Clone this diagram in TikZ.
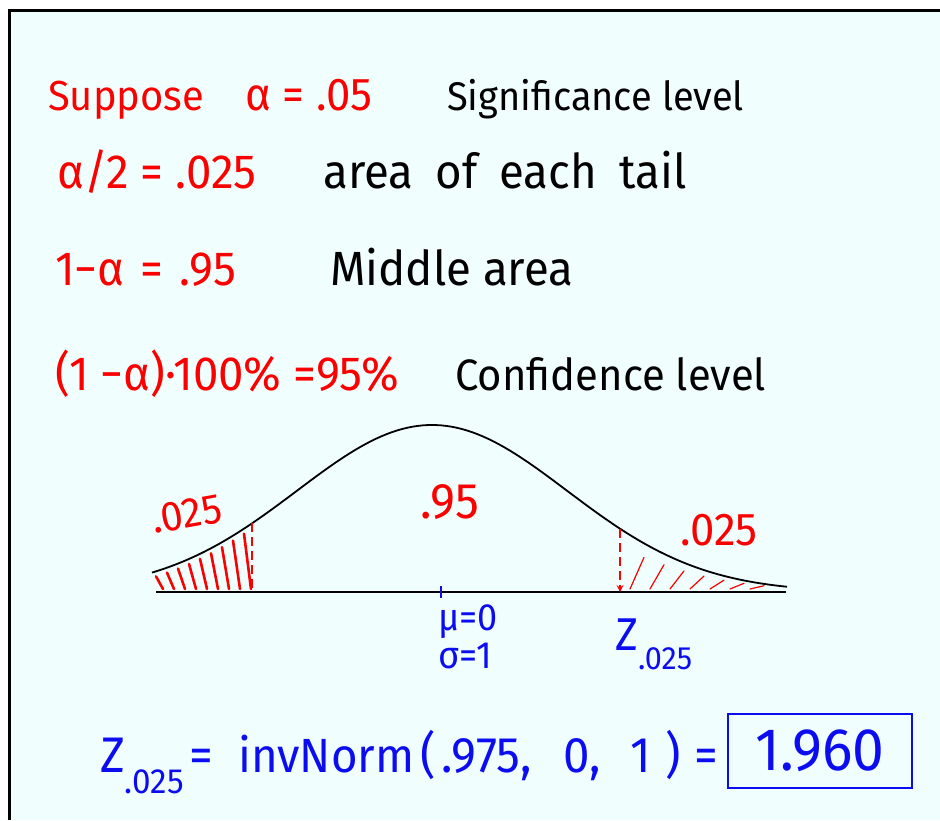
\documentclass[tikz,border=0pt]{standalone}
\usepackage{fontspec}
\setmainfont{Fira Sans}[FakeStretch=0.95]
\usetikzlibrary{arrows,positioning}
\definecolor{boardbg}{RGB}{240,255,253}
\definecolor{penred}{RGB}{250,0,0}
\definecolor{penblue}{RGB}{12,12,240}

% lowered subscript, as in z_{.025}
\newcommand{\lowsub}[1]{\raisebox{-0.42em}{\scalebox{0.7}{#1}}}
% height of the bell curve at x (pixels, y downwards)
\newcommand{\bell}[1]{(592-167*exp(-(((#1)-432)/135)^2/2))}
\newcommand{\fs}[1]{\fontsize{#1}{#1}\selectfont}

\begin{document}
\begin{tikzpicture}[x=1pt, y=-1pt,
    every node/.style={inner sep=0pt, font=\fs{46}},
    redtext/.style={anchor=base west, text=penred},
    blacktext/.style={anchor=base west, text=black},
    bluetext/.style={anchor=base west, text=penblue},
    hatch/.style={penred, line width=2.6pt, line cap=round},
    thinhatch/.style={penred, line width=1.2pt, line cap=round},
    cutline/.style={penred, line width=2pt, dashed, dash pattern=on 9pt off 5pt}
]

% board
\useasboundingbox (0,0) rectangle (940,820);
\fill[white] (0,0) rectangle (940,820);
\fill[boardbg] (9,10) rectangle (940,820);
\draw[line width=3pt] (9,820) -- (9,10) -- (940,10);

% Definitions
\node[redtext, font=\fs{42}] (suppose) at (48,110) {Suppose};
\node[redtext] (alpha) at (245,110) {α = .05};
\node[blacktext, font=\fs{40}] (siglevel) at (447,110) {Significance level};

\node[redtext, font=\fs{48}] (halfalpha) at (57,188) {α/2 = .025};
\node[blacktext, font=\fs{48}] (tailarea) at (323,188) {area\hspace{10pt} of\hspace{10pt} each\hspace{10pt} tail};

\node[redtext, font=\fs{48}] (oneminus) at (55,285) {1−α\hspace{4pt} =\hspace{4pt} .95};
\node[blacktext, font=\fs{48}] (midarea) at (330,285) {Middle area};

\node[redtext, font=\fs{48}] (conf) at (55,390) {(1 −α)·100\% =95\%};
\node[blacktext, font=\fs{44}] (conflevel) at (455,390) {Confidence level};

% Normal curve
\draw[line width=1.8pt] plot[domain=152:787, samples=120] (\x, {\bell{\x}});
\draw[line width=1.8pt] (156,592) -- (786,592);

\coordinate (lcut top) at (252,{\bell{252}});
\coordinate (lcut bot) at (252,592);
\coordinate (rcut top) at (620,{\bell{620}});
\coordinate (rcut bot) at (620,592);
\draw[cutline] (lcut top) -- (lcut bot);
\draw[cutline, -stealth] (rcut top) -- (rcut bot);

% shaded tails
\foreach \x in {158,169,...,246}
  \draw[hatch] (\x-2,{\bell{\x-2}+5}) -- (\x+5,589);
\foreach \x in {630,650,...,750}
  \draw[thinhatch] (\x,589) -- (\x+14,{590-0.7*(590-\bell{\x+14})});

% Areas and axis labels
\node[redtext, font=\fs{50}] (midval) at (420,518) {.95};
\node[redtext, rotate=10, font=\fs{42}] (lefttail) at (154,534) {.025};
\node[redtext, font=\fs{46}] (righttail) at (680,545) {.025};

\draw[penblue, line width=2pt] (441,586) -- (441,598);
\node[bluetext, font=\fs{38}] (mean) at (438,630) {μ=0};
\node[bluetext, font=\fs{38}] (sd) at (438,668) {σ=1};
\node[bluetext] (zcrit) at (615,650) {Z\lowsub{.025}};

% Answer
\node[bluetext, font=\fs{50}] (zlow) at (100,772) {Z\lowsub{.025}\hspace{6pt}=};
\node[bluetext, font=\fs{48}] (invnorm) at (238,772) {invNorm};
\node[bluetext, font=\fs{50}] (args) at (420,772) {(\hspace{6pt}.975,\hspace{32pt}0,\hspace{30pt}1\hspace{14pt})};
\node[bluetext, font=\fs{50}] (eqsign) at (694,772) {=};
\node[draw=penblue, text=penblue, line width=2.5pt, minimum width=184, minimum height=74,
      font=\fs{60}] (answer) at (820,751) {1.960};

\end{tikzpicture}
\end{document}
